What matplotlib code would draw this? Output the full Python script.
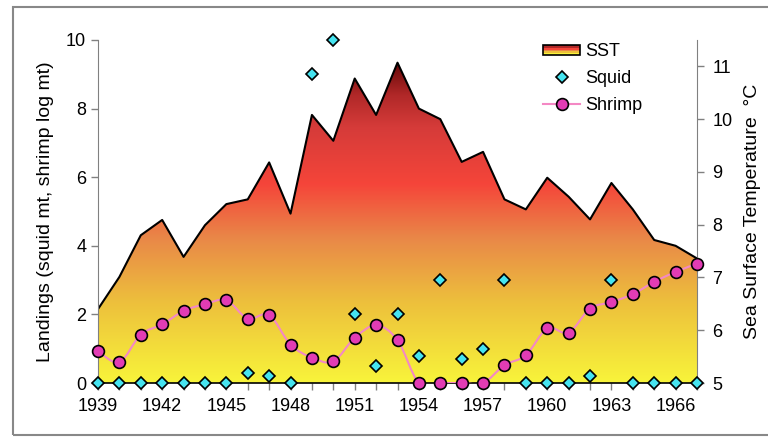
import numpy as np
import matplotlib
matplotlib.use("Agg")
import matplotlib.pyplot as plt
from matplotlib.colors import LinearSegmentedColormap
from matplotlib.patches import Rectangle, Polygon
from matplotlib.path import Path
from matplotlib.patches import PathPatch
from matplotlib.lines import Line2D
from matplotlib.legend_handler import HandlerBase

years = list(range(1939, 1968))
sst = [6.40, 7.01, 7.80, 8.09, 7.39, 7.99, 8.39, 8.48, 9.18, 8.21,
       10.08, 9.59, 10.77, 10.08, 11.07, 10.20, 10.00, 9.19, 9.38, 8.48,
       8.29, 8.89, 8.53, 8.10, 8.79, 8.29, 7.71, 7.60, 7.36]
squid = [0, 0, 0, 0, 0, 0, 0, 0.3, 0.2, 0,
         9, 10, 2, 0.5, 2, 0.8, 3, 0.7, 1.0, 3,
         0, 0, 0, 0.2, 3, 0, 0, 0, 0]
shrimp = [0.93, 0.61, 1.41, 1.71, 2.10, 2.30, 2.41, 1.88, 1.98, 1.12,
          0.74, 0.63, 1.32, 1.68, 1.25, 0, 0, 0, 0, 0.52,
          0.81, 1.59, 1.47, 2.17, 2.36, 2.59, 2.95, 3.24, 3.48]
xtick_years = list(range(1939, 1967, 3))

plt.rcParams['font.family'] = ['Liberation Sans', 'DejaVu Sans']
FS = 13

fig = plt.figure(figsize=(7.68, 4.38), dpi=100)
fig.patch.set_facecolor('white')

# outer frame
fig.add_artist(Rectangle((13/768, 3/438), 1.2, (438-10)/438, transform=fig.transFigure,
                         fill=False, edgecolor='#888888', lw=1.5))

ax = fig.add_axes([98/768, (438-383)/438, (697-98)/768, (383-40)/438])
ax2 = ax.twinx()
ax.set_zorder(ax2.get_zorder() + 1)
ax.patch.set_visible(False)

cmap = LinearSegmentedColormap.from_list('sst', [
    (0.0, '#f8f43a'), (0.25, '#edc03c'), (0.45, '#e98848'),
    (0.62, '#f5453a'), (0.8, '#d53b39'), (0.9, '#b02828'), (1.0, '#650808')])

tmin, tmax = 5, max(sst)
grad = np.linspace(0, 1, 256).reshape(-1, 1)
im = ax2.imshow(grad, extent=[years[0], years[-1], tmin, tmax], aspect='auto',
                cmap=cmap, origin='lower', zorder=1, interpolation='bilinear')
poly_pts = [(years[0], tmin)] + list(zip(years, sst)) + [(years[-1], tmin)]
clip = Polygon(poly_pts, closed=True, transform=ax2.transData, facecolor='none', edgecolor='none')
ax2.add_patch(clip)
im.set_clip_path(clip)
ax2.plot(years, sst, color='black', lw=1.5, zorder=2)
ax2.set_ylim(5, 11.5)
ax2.set_xlim(years[0], years[-1])

# shrimp smoothed line (Catmull-Rom -> Bezier)
P = np.column_stack([years, shrimp]).astype(float)
verts = [tuple(P[0])]
codes = [Path.MOVETO]
n = len(P)
for i in range(n - 1):
    p0 = P[i - 1] if i > 0 else P[i]
    p1 = P[i]
    p2 = P[i + 1]
    p3 = P[i + 2] if i + 2 < n else P[i + 1]
    c1 = p1 + (p2 - p0) / 6.0
    c2 = p2 - (p3 - p1) / 6.0
    verts += [tuple(c1), tuple(c2), tuple(p2)]
    codes += [Path.CURVE4] * 3
ax.add_patch(PathPatch(Path(verts, codes), facecolor='none', edgecolor='#f488c4', lw=1.5, zorder=3))
ax.plot(years, shrimp, ls='none', marker='o', ms=8.5, mfc='#e23cb4', mec='black', mew=1.2, zorder=5, clip_on=False)
ax.plot(years, squid, ls='none', marker='D', ms=6.3, mfc='#46e4f0', mec='black', mew=1.2, zorder=6, clip_on=False)

ax.set_xlim(years[0], years[-1])
ax.set_ylim(0, 10)
ax.set_yticks(range(0, 11, 2))
ax.set_xticks(xtick_years)
ax.set_xticks(years, minor=True)
ax2.set_yticks(range(5, 12))

for a in (ax, ax2):
    a.spines['top'].set_visible(False)
    a.tick_params(axis='both', which='both', colors='#808080', labelcolor='black',
                  labelsize=FS, direction='out', length=5, width=1)
ax.spines['left'].set_color('#808080')
ax.spines['right'].set_visible(False)
ax2.spines['left'].set_visible(False)
ax2.spines['right'].set_color('#808080')
ax2.spines['bottom'].set_visible(False)
ax.spines['bottom'].set_color('black')
ax.spines['bottom'].set_linewidth(1.2)
ax.tick_params(axis='x', which='minor', length=5)
ax.tick_params(axis='x', pad=6)
ax2.tick_params(axis='y', pad=6)

ax.set_ylabel('Landings (squid mt, shrimp log mt)', fontsize=FS + 1, labelpad=9)
ax2.set_ylabel('Sea Surface Temperature  °C', fontsize=FS + 1, labelpad=8)


class GradHandler(HandlerBase):
    def create_artists(self, legend, orig_handle, xdescent, ydescent, width, height, fontsize, trans):
        arts = []
        cols = ['#f8f43a', '#edc03c', '#e98848', '#f5453a', '#b02828', '#650808']
        h = height * 0.8
        y0 = -ydescent + (height - h) / 2
        for k, c in enumerate(cols):
            arts.append(Rectangle((-xdescent, y0 + h * k / len(cols)), width, h / len(cols),
                                  facecolor=c, edgecolor='none', transform=trans))
        arts.append(Rectangle((-xdescent, y0), width, h, facecolor='none',
                              edgecolor='black', lw=1.2, transform=trans))
        return arts

sst_handle = Rectangle((0, 0), 1, 1)
sq_handle = Line2D([], [], ls='none', marker='D', ms=6.3, mfc='#46e4f0', mec='black', mew=1.2)
sh_handle = Line2D([], [], color='#f488c4', lw=1.5, marker='o', ms=8.5, mfc='#e23cb4', mec='black', mew=1.2)
ax.legend([sst_handle, sq_handle, sh_handle], ['SST', 'Squid', 'Shrimp'],
          handler_map={Rectangle: GradHandler()}, loc='upper left',
          bbox_to_anchor=(0.731, 1.012), borderaxespad=0, frameon=False, fontsize=FS,
          handlelength=2.05, handletextpad=0.3, labelspacing=0.55)

fig.savefig('out.png', dpi=100, facecolor='white')
